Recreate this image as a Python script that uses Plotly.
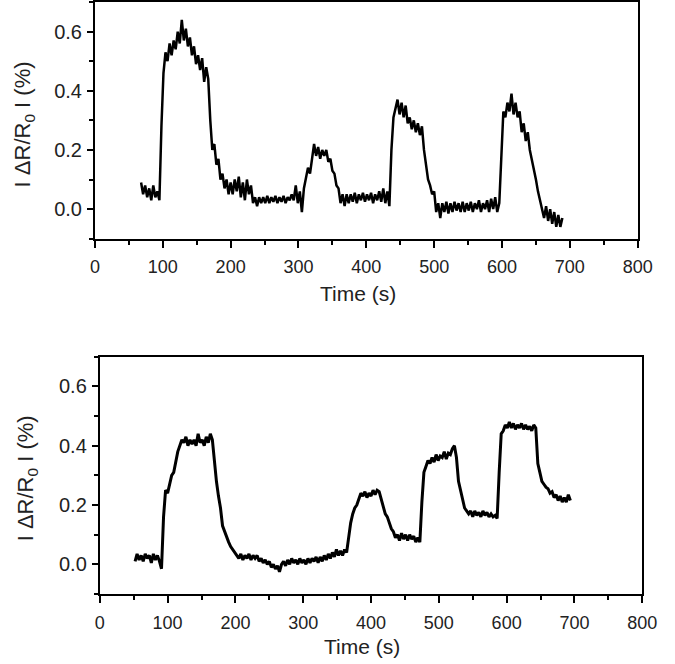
import plotly.graph_objects as go

# ---- data (time in s, |dR/R0| in %) ----
top_points = [
    (68, 0.09), (71, 0.05), (74, 0.08), (77, 0.04), (80, 0.07), (83, 0.03), (86, 0.08), (89, 0.04),
    (92, 0.06), (95, 0.03), (98, 0.28), (101, 0.46), (104, 0.53), (107, 0.50), (110, 0.56), (113, 0.52),
    (116, 0.57), (119, 0.54), (122, 0.60), (125, 0.56), (128, 0.64), (131, 0.57), (134, 0.61), (137, 0.55),
    (140, 0.58), (143, 0.52), (146, 0.55), (149, 0.49), (152, 0.52), (155, 0.47), (158, 0.51), (161, 0.43),
    (164, 0.48), (167, 0.44), (170, 0.30), (173, 0.20), (176, 0.22), (179, 0.15), (182, 0.17), (185, 0.10),
    (188, 0.12), (191, 0.07), (194, 0.10), (197, 0.05), (200, 0.09), (203, 0.05), (206, 0.10), (209, 0.06),
    (212, 0.11), (215, 0.04), (218, 0.09), (221, 0.03), (224, 0.10), (227, 0.05), (230, 0.08), (233, 0.02),
    (236, 0.04), (239, 0.01), (242, 0.04), (245, 0.02), (248, 0.04), (251, 0.02), (254, 0.045), (257, 0.02),
    (260, 0.04), (263, 0.025), (266, 0.045), (269, 0.02), (272, 0.04), (275, 0.025), (278, 0.045), (281, 0.02),
    (284, 0.04), (287, 0.03), (290, 0.05), (293, 0.03), (296, 0.08), (299, 0.02), (302, 0.06), (305, -0.01),
    (308, 0.07), (311, 0.10), (314, 0.14), (317, 0.12), (320, 0.18), (323, 0.22), (326, 0.18), (329, 0.21),
    (332, 0.17), (335, 0.20), (338, 0.18), (341, 0.20), (344, 0.16), (347, 0.17), (350, 0.13), (353, 0.12),
    (356, 0.08), (359, 0.07), (362, 0.02), (365, 0.05), (368, 0.01), (371, 0.05), (374, 0.02), (377, 0.05),
    (380, 0.025), (383, 0.055), (386, 0.02), (389, 0.05), (392, 0.03), (395, 0.055), (398, 0.025), (401, 0.05),
    (404, 0.03), (407, 0.055), (410, 0.02), (413, 0.05), (416, 0.03), (419, 0.06), (422, 0.025), (425, 0.07),
    (428, 0.02), (431, 0.06), (434, 0.01), (437, 0.20), (440, 0.31), (443, 0.34), (446, 0.37), (449, 0.32),
    (452, 0.36), (455, 0.31), (458, 0.35), (461, 0.29), (464, 0.31), (467, 0.27), (470, 0.30), (473, 0.26),
    (476, 0.29), (479, 0.25), (482, 0.28), (485, 0.20), (488, 0.15), (491, 0.10), (494, 0.08), (497, 0.05),
    (500, 0.06), (503, -0.01), (506, 0.02), (509, -0.03), (512, 0.02), (515, -0.01), (518, 0.025), (521, -0.015),
    (524, 0.02), (527, -0.01), (530, 0.025), (533, -0.005), (536, 0.02), (539, -0.01), (542, 0.025), (545, -0.01),
    (548, 0.02), (551, -0.005), (554, 0.025), (557, -0.01), (560, 0.02), (563, 0.0), (566, 0.03), (569, -0.01),
    (572, 0.02), (575, 0.0), (578, 0.03), (581, -0.01), (584, 0.035), (587, 0.0), (590, 0.04), (593, -0.01),
    (596, 0.02), (599, 0.17), (602, 0.33), (605, 0.31), (608, 0.36), (611, 0.33), (614, 0.39), (617, 0.32),
    (620, 0.36), (623, 0.31), (626, 0.33), (629, 0.26), (632, 0.29), (635, 0.23), (638, 0.26), (641, 0.20),
    (644, 0.17), (647, 0.13), (650, 0.10), (653, 0.06), (656, 0.03), (659, 0.0), (662, -0.03), (665, 0.01),
    (668, -0.04), (671, 0.0), (674, -0.05), (677, -0.01), (680, -0.06), (683, -0.02), (686, -0.06), (689, -0.03),
]

bottom_points = [
    (52, 0.01), (55, 0.035), (58, 0.015), (61, 0.03), (64, 0.01), (67, 0.035), (70, 0.02), (73, 0.03),
    (76, 0.005), (79, 0.035), (82, 0.015), (85, 0.03), (88, 0.01), (91, -0.015), (94, 0.16), (97, 0.25),
    (100, 0.24), (103, 0.27), (106, 0.30), (109, 0.31), (112, 0.35), (115, 0.38), (118, 0.40), (121, 0.42),
    (124, 0.41), (127, 0.43), (130, 0.40), (133, 0.42), (136, 0.405), (139, 0.42), (142, 0.40), (145, 0.44),
    (148, 0.41), (151, 0.42), (154, 0.40), (157, 0.43), (160, 0.41), (163, 0.44), (166, 0.42), (169, 0.34),
    (172, 0.28), (175, 0.23), (178, 0.19), (181, 0.13), (184, 0.11), (187, 0.09), (190, 0.075), (193, 0.06),
    (196, 0.05), (199, 0.04), (202, 0.03), (205, 0.02), (208, 0.035), (211, 0.015), (214, 0.03), (217, 0.02),
    (220, 0.035), (223, 0.015), (226, 0.03), (229, 0.02), (232, 0.03), (235, 0.01), (238, 0.02), (241, 0.005),
    (244, 0.015), (247, 0.0), (250, 0.01), (253, -0.01), (256, 0.0), (259, -0.015), (262, -0.005), (265, -0.025),
    (268, 0.0), (271, 0.01), (274, -0.005), (277, 0.015), (280, 0.0), (283, 0.02), (286, 0.005), (289, 0.015),
    (292, 0.0), (295, 0.02), (298, 0.005), (301, 0.015), (304, 0.0), (307, 0.02), (310, 0.005), (313, 0.02),
    (316, 0.01), (319, 0.025), (322, 0.005), (325, 0.025), (328, 0.01), (331, 0.03), (334, 0.015), (337, 0.035),
    (340, 0.02), (343, 0.04), (346, 0.025), (349, 0.05), (352, 0.03), (355, 0.045), (358, 0.03), (361, 0.05),
    (364, 0.04), (367, 0.10), (370, 0.14), (373, 0.17), (376, 0.19), (379, 0.20), (382, 0.22), (385, 0.24),
    (388, 0.23), (391, 0.245), (394, 0.225), (397, 0.24), (400, 0.23), (403, 0.25), (406, 0.235), (409, 0.25),
    (412, 0.245), (415, 0.22), (418, 0.19), (421, 0.17), (424, 0.16), (427, 0.14), (430, 0.12), (433, 0.11),
    (436, 0.09), (439, 0.10), (442, 0.08), (445, 0.105), (448, 0.085), (451, 0.10), (454, 0.08), (457, 0.10),
    (460, 0.085), (463, 0.095), (466, 0.075), (469, 0.09), (472, 0.075), (475, 0.21), (478, 0.31), (481, 0.33),
    (484, 0.35), (487, 0.34), (490, 0.36), (493, 0.345), (496, 0.37), (499, 0.35), (502, 0.365), (505, 0.36),
    (508, 0.38), (511, 0.355), (514, 0.375), (517, 0.37), (520, 0.39), (523, 0.40), (526, 0.36), (529, 0.28),
    (532, 0.25), (535, 0.22), (538, 0.19), (541, 0.18), (544, 0.17), (547, 0.18), (550, 0.16), (553, 0.18),
    (556, 0.165), (559, 0.175), (562, 0.16), (565, 0.18), (568, 0.165), (571, 0.175), (574, 0.16), (577, 0.17),
    (580, 0.16), (583, 0.165), (586, 0.155), (589, 0.31), (592, 0.44), (595, 0.45), (598, 0.47), (601, 0.46),
    (604, 0.48), (607, 0.46), (610, 0.475), (613, 0.455), (616, 0.47), (619, 0.46), (622, 0.475), (625, 0.455),
    (628, 0.47), (631, 0.455), (634, 0.465), (637, 0.45), (640, 0.47), (643, 0.46), (646, 0.34), (649, 0.31),
    (652, 0.28), (655, 0.27), (658, 0.26), (661, 0.255), (664, 0.24), (667, 0.245), (670, 0.225), (673, 0.235),
    (676, 0.215), (679, 0.23), (682, 0.21), (685, 0.225), (688, 0.21), (691, 0.235), (694, 0.215),
]

x_tick_vals = [0, 100, 200, 300, 400, 500, 600, 700, 800]
x_tick_text = ["0", "100", "200", "300", "400", "500", "600", "700", "800"]
y_tick_vals = [0.0, 0.2, 0.4, 0.6]
y_tick_text = ["0.0", "0.2", "0.4", "0.6"]
x_title = "Time (s)"
y_title = "I ΔR/R<sub>0</sub> I (%)"

FONT = "Liberation Sans, Arial, sans-serif"
W, H = 675, 664

fig = go.Figure()
fig.add_trace(go.Scatter(
    x=[p[0] for p in top_points], y=[p[1] for p in top_points],
    mode="lines", line=dict(color="black", width=2.5), xaxis="x", yaxis="y", showlegend=False))
fig.add_trace(go.Scatter(
    x=[p[0] for p in bottom_points], y=[p[1] for p in bottom_points],
    mode="lines", line=dict(color="black", width=3), xaxis="x2", yaxis="y2", showlegend=False))


def xaxis(domain, anchor):
    return dict(domain=domain, anchor=anchor, range=[0, 800], tickvals=x_tick_vals, ticktext=x_tick_text,
                showgrid=False, zeroline=False, showline=True, linecolor="black", linewidth=2, mirror=True,
                ticks="outside", ticklen=7, tickwidth=1.5, tickcolor="black",
                minor=dict(ticks="outside", ticklen=4, tickwidth=1.5, tickcolor="black", dtick=50, tick0=0, showgrid=False),
                tickfont=dict(family=FONT, size=18, color="#222"), ticklabelstandoff=4)


def yaxis(domain, anchor):
    return dict(domain=domain, anchor=anchor, range=[-0.1, 0.7], tickvals=y_tick_vals, ticktext=y_tick_text,
                showgrid=False, zeroline=False, showline=True, linecolor="black", linewidth=2, mirror=True,
                ticks="outside", ticklen=6, tickwidth=1.5, tickcolor="black",
                minor=dict(ticks="outside", ticklen=4, tickwidth=1.5, tickcolor="black", dtick=0.1, tick0=0, showgrid=False),
                tickfont=dict(family=FONT, size=20, color="#222"), ticklabelstandoff=1)


fig.update_layout(
    width=W, height=H, margin=dict(l=0, r=0, t=0, b=0),
    paper_bgcolor="white", plot_bgcolor="white", showlegend=False,
    xaxis=xaxis([92.7 / W, 652 / W], "y"),
    yaxis=yaxis([1 - 238.7 / H, 1 - 2 / H], "x"),
    xaxis2=xaxis([97.7 / W, 656.7 / W], "y2"),
    yaxis2=yaxis([1 - 594 / H, 1 - 356.7 / H], "x2"),
)

ann_font = dict(family=FONT, size=21, color="#222")
for (cx, cy) in [(363.5, 294), (367.5, 646)]:
    fig.add_annotation(text=x_title, xref="paper", yref="paper", x=cx / W, y=1 - cy / H,
                       xanchor="center", yanchor="middle", showarrow=False, font=ann_font)
for (cx, cy) in [(20, 124), (23, 478)]:
    fig.add_annotation(text=y_title, xref="paper", yref="paper", x=cx / W, y=1 - cy / H,
                       xanchor="center", yanchor="middle", textangle=-90, showarrow=False,
                       font=dict(family=FONT, size=22, color="#222"))

fig.write_html("out.html", config={"displayModeBar": False},
               post_script="document.body.style.margin='0';document.body.style.overflow='hidden';")
